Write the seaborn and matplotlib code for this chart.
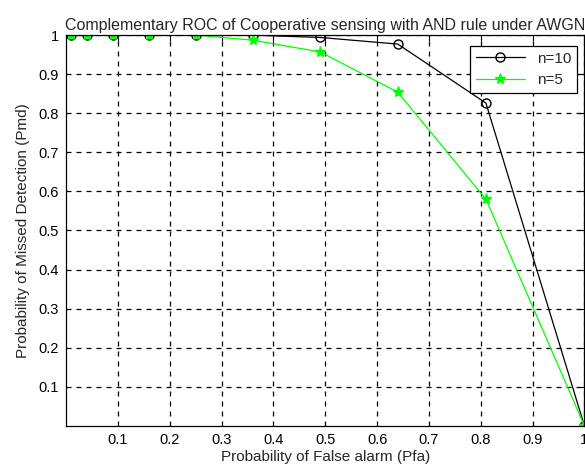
import matplotlib
matplotlib.use("Agg")
import matplotlib.pyplot as plt
import pandas as pd
import seaborn as sns

# Data
pfa = [0.01, 0.04, 0.09, 0.16, 0.25, 0.36, 0.49, 0.64, 0.81, 1.0]
pmd_n10 = [1.0, 1.0, 1.0, 1.0, 1.0, 1.0, 0.994, 0.977, 0.826, 0.0]
pmd_n5 = [1.0, 1.0, 1.0, 1.0, 1.0, 0.987, 0.957, 0.854, 0.580, 0.0]
series_names = ["n=10", "n=5"]
x_ticks = [0.1, 0.2, 0.3, 0.4, 0.5, 0.6, 0.7, 0.8, 0.9, 1.0]
y_ticks = [0.1, 0.2, 0.3, 0.4, 0.5, 0.6, 0.7, 0.8, 0.9, 1.0]
tick_labels = ["0.1", "0.2", "0.3", "0.4", "0.5", "0.6", "0.7", "0.8", "0.9", "1"]

df = pd.DataFrame({
    "Pfa": pfa * 2,
    "Pmd": pmd_n10 + pmd_n5,
    "n": [series_names[0]] * len(pfa) + [series_names[1]] * len(pfa),
})

colors = {"n=10": "black", "n=5": "#00ff00"}
marks = {"n=10": "o", "n=5": "*"}

sns.set_style("white")
plt.rcParams["font.family"] = ["Liberation Sans", "DejaVu Sans"]

fig = plt.figure(figsize=(5.85, 4.68), dpi=100)
ax = fig.add_axes([0.113, 0.09, 0.886, 0.835])

sns.lineplot(data=df, x="Pfa", y="Pmd", hue="n", palette=colors,
             linewidth=0.9, ax=ax, legend=False, sort=False)

# MATLAB-like markers: open circles for n=10, stars for n=5
for line, name in zip(ax.lines, series_names):
    line.set_linestyle("-")
    line.set_marker(marks[name])
    line.set_markeredgecolor(colors[name])
    line.set_markeredgewidth(1.0)
    if name == "n=10":
        line.set_markerfacecolor("none")
        line.set_markersize(6.5)
    else:
        line.set_markerfacecolor(colors[name])
        line.set_markersize(8)
    line.set_label(name)

ax.set_xlim(0, 1)
ax.set_ylim(0, 1)
ax.set_xticks(x_ticks)
ax.set_yticks(y_ticks)
ax.set_xticklabels(tick_labels)
ax.set_yticklabels(tick_labels)
ax.grid(True, color="black", linestyle=(0, (4, 4)), linewidth=0.9)
ax.tick_params(direction="in", length=4, labelsize=10.5, colors="black",
               top=True, right=True, pad=5)
for s in ax.spines.values():
    s.set_color("black")
    s.set_linewidth(0.9)

ax.set_title("Complementary ROC of Cooperative sensing with AND rule under AWGN",
             fontsize=11.5, pad=4)
ax.set_xlabel("Probability of False alarm (Pfa)", fontsize=11, labelpad=2)
ax.set_ylabel("Probability of Missed Detection (Pmd)", fontsize=11, labelpad=6)

leg = ax.legend(loc="upper right", bbox_to_anchor=(0.995, 0.985),
                fontsize=11, frameon=True, fancybox=False, edgecolor="black",
                handlelength=3.2, borderaxespad=0.3, framealpha=1)
leg.get_frame().set_linewidth(0.9)

fig.savefig("out.png", dpi=100)
